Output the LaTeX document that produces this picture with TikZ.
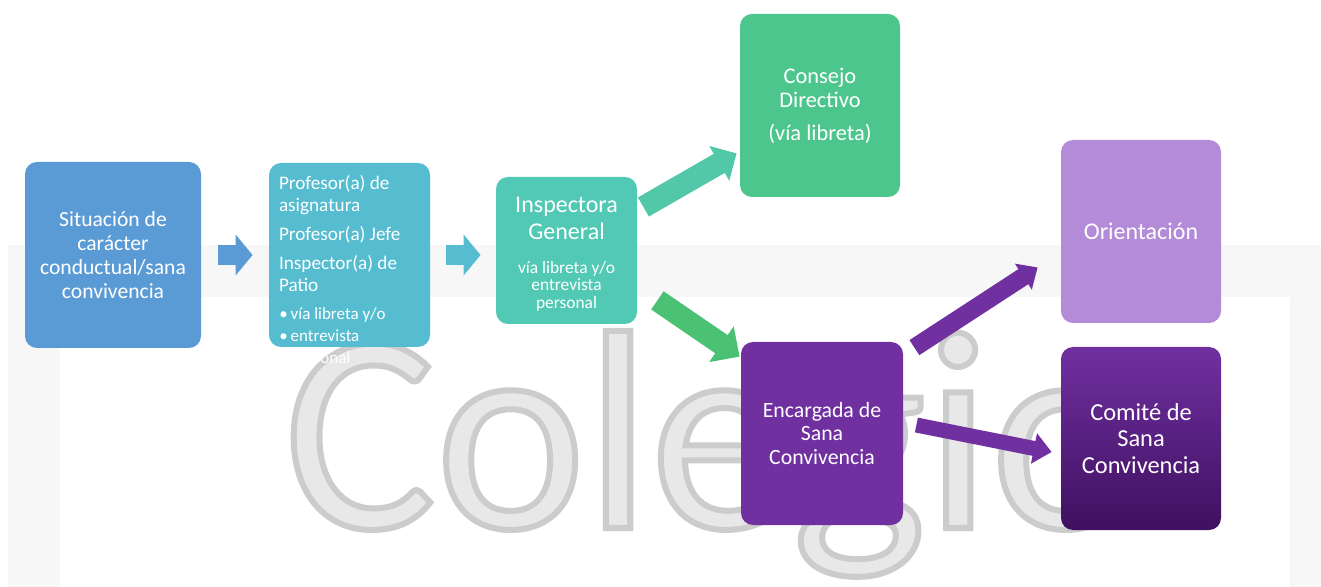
\documentclass[tikz,border=0pt]{standalone}
\usepackage{fontspec}
\setmainfont{Carlito}
\usetikzlibrary{arrows.meta}

\definecolor{azul}{HTML}{5B9BD5}
\definecolor{celeste}{HTML}{56BCD0}
\definecolor{turquesa}{HTML}{52C9B5}
\definecolor{verde}{HTML}{4DC68E}
\definecolor{verdeflecha}{HTML}{4BC173}
\definecolor{turqflecha}{HTML}{52C8A8}
\definecolor{lila}{HTML}{B38BD8}
\definecolor{morado}{HTML}{7030A0}
\definecolor{moradoosc}{HTML}{3F1060}

\begin{document}
\begin{tikzpicture}[x=0.5pt, y=-0.5pt,
    caja/.style = {rounded corners=6pt, text=white, align=center, inner sep=0pt},
    texto/.style = {text=white, inner sep=0pt},
    flecha/.style n args = {4}{draw=#1, line width=#2, -{Triangle[width=#3, length=#4]}}]
  \useasboundingbox (0,0) rectangle (1321,587);
  % fondo con la marca de agua
  \fill[black!3] (8,245) rectangle (1321,587);
  \fill[white] (60,297) rectangle (1290,587);
  \node[anchor=base west, inner sep=0pt, text=black!20] (marca) at (284,528)
    {\fontsize{142}{142}\selectfont\special{pdf:literal direct 0.80 0.80 0.80 RG 0.91 0.91 0.91 rg 2 Tr 3 w}Colegio\special{pdf:literal direct 0 Tr}};
  % cajas
  \node[caja, fill=azul, minimum width=88pt, minimum height=93pt, font=\fontsize{10.8}{12}\selectfont] (sit) at (113,255)
    {Situación de\\carácter\\conductual/sana\\convivencia};
  \node[caja, fill=celeste, minimum width=80.5pt, minimum height=92pt] (prof) at (349.5,255) {};
  \node[texto, anchor=north west, align=left, font=\fontsize{9.6}{11}\selectfont] (proftxt) at ([shift={(10,12)}]prof.north west)
    {Profesor(a) de\\asignatura\\[3.5pt]Profesor(a) Jefe\\[3.5pt]Inspector(a) de\\Patio};
  \node[texto, anchor=north west, align=left, font=\fontsize{8.5}{11}\selectfont] (profvia) at (279,307)
    {•\,vía libreta y/o\\•\,entrevista\\\hphantom{•\,}personal};
  \node[caja, fill=turquesa, minimum width=70.5pt, minimum height=73.5pt] (insp) at (566.5,250.5) {};
  \node[texto, align=center, font=\fontsize{12}{13.5}\selectfont] (insptit) at (566.5,218) {Inspectora\\General};
  \node[texto, align=center, font=\fontsize{8.7}{8.75}\selectfont] (inspvia) at (566.5,286) {vía libreta y/o\\entrevista\\personal};
  \node[caja, fill=verde, minimum width=80pt, minimum height=91.5pt, font=\fontsize{11.2}{12}\selectfont] (cons) at (820,105.5)
    {Consejo\\Directivo\\[4.5pt](vía libreta)};
  \node[caja, fill=lila, minimum width=80pt, minimum height=91.5pt, font=\fontsize{12}{13}\selectfont] (ori) at (1141,231.5)
    {Orientación};
  \node[caja, fill=morado, minimum width=81pt, minimum height=91.5pt, font=\fontsize{10.9}{11.75}\selectfont] (enc) at (822,433.5)
    {Encargada de\\Sana\\Convivencia};
  \node[caja, top color=morado, bottom color=moradoosc, minimum width=80pt, minimum height=91.5pt, font=\fontsize{12.2}{13.25}\selectfont] (com) at (1141,438.5)
    {Comité de\\Sana\\Convivencia};
  % flechas
  \draw[flecha={azul}{10pt}{20pt}{8.5pt}, shorten <=8.5pt, shorten >=8pt] (sit) -- (prof);
  \draw[flecha={celeste}{10pt}{20pt}{8.5pt}, shorten <=8pt, shorten >=7.5pt] (prof.east) -- (prof.east -| insp.west);
  \draw[flecha={turqflecha}{11pt}{19.5pt}{10pt}] ([shift={(6,-43.5)}]insp.east) -- ([shift={(-3,-44)}]cons.south west);
  \draw[flecha={verdeflecha}{11pt}{21pt}{11pt}] ([shift={(20,-24)}]insp.south east) -- ([shift={(-1,15)}]enc.north west);
  \draw[flecha={morado}{9pt}{15pt}{8.5pt}] ([shift={(11,6)}]enc.north east) -- ([shift={(-23,-56)}]ori.south west);
  \draw[flecha={morado}{7.5pt}{15pt}{9pt}] ([shift={(13,-8.5)}]enc.east) -- ([shift={(-9,13.5)}]com.west);
\end{tikzpicture}
\end{document}
